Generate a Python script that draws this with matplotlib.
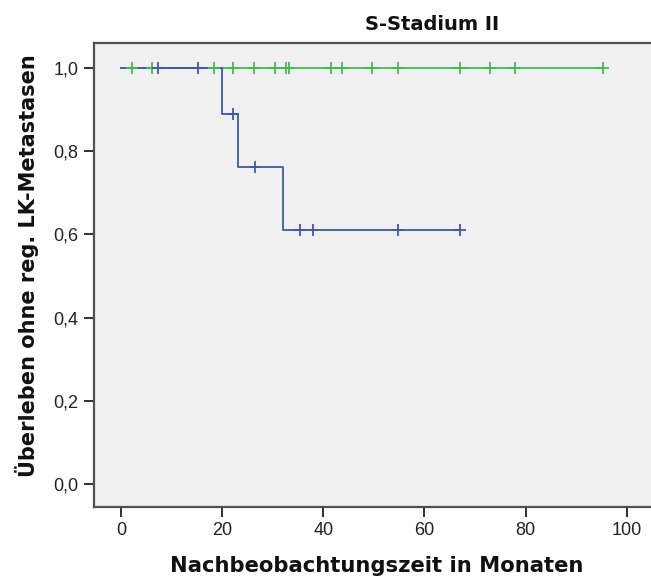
import numpy as np
import matplotlib.pyplot as plt

# Kaplan-Meier curves
blue_step_t = [0.0, 20.0, 23.1, 32.1, 67.0]
blue_step_s = [1.0, 0.889, 0.762, 0.610, 0.610]
blue_cens_t = [7.4, 15.3, 22.2, 26.5, 35.5, 38.0, 54.7, 67.0]

green_step_t = [0.0, 95.3]
green_step_s = [1.0, 1.0]
green_cens_t = [2.1, 6.2, 18.3, 22.2, 26.4, 30.5, 32.6, 33.3, 41.5, 43.8,
                49.6, 54.8, 67.0, 72.9, 78.0, 95.3]

x_ticks = [0, 20, 40, 60, 80, 100]
y_ticks = [0.0, 0.2, 0.4, 0.6, 0.8, 1.0]
y_tick_labels = ["0,0", "0,2", "0,4", "0,6", "0,8", "1,0"]

BLUE = "#3E58AC"
GREEN = "#45B952"


def level_at(step_t, step_s, t):
    i = np.searchsorted(step_t, t, side="right") - 1
    return np.asarray(step_s)[i]


fig = plt.figure(figsize=(6.51, 5.81), dpi=100)
ax = fig.add_axes([94 / 651, 1 - 507 / 581, (660 - 94) / 651, (507 - 43) / 581])
ax.set_facecolor("#F0F0F0")

for st, ss, ct, col in [(green_step_t, green_step_s, green_cens_t, GREEN),
                        (blue_step_t, blue_step_s, blue_cens_t, BLUE)]:
    ax.step(st, ss, where="post", color=col, lw=1.3, zorder=3)
    ax.plot(ct, level_at(st, ss, ct), ls="none", marker="+", ms=8, mew=1.3,
            color=col, zorder=4)

ax.set_xlim(-5.34, 106.6)
ax.set_ylim(-0.055, 1.060)
ax.set_xticks(x_ticks)
ax.set_yticks(y_ticks)
ax.set_yticklabels(y_tick_labels)

for sp in ax.spines.values():
    sp.set_color("#505050")
    sp.set_linewidth(1.6)
ax.tick_params(direction="out", length=7, width=1.4, color="#303030",
               labelsize=13, labelcolor="#222222", pad=4)
for lab in ax.get_xticklabels() + ax.get_yticklabels():
    lab.set_family("Liberation Sans")

fig.text(432 / 651, 1 - 25 / 581, "S-Stadium II", ha="center", va="center",
         fontsize=14, fontweight="bold", color="#111111")
ax.set_xlabel("Nachbeobachtungszeit in Monaten", fontsize=15.2,
              fontweight="bold", color="#111111", labelpad=12)
ax.set_ylabel("Überleben ohne reg. LK-Metastasen", fontsize=15,
              fontweight="bold", color="#111111")
ax.yaxis.set_label_coords(-0.097, 0.52)

fig.savefig("out.png", dpi=100)
